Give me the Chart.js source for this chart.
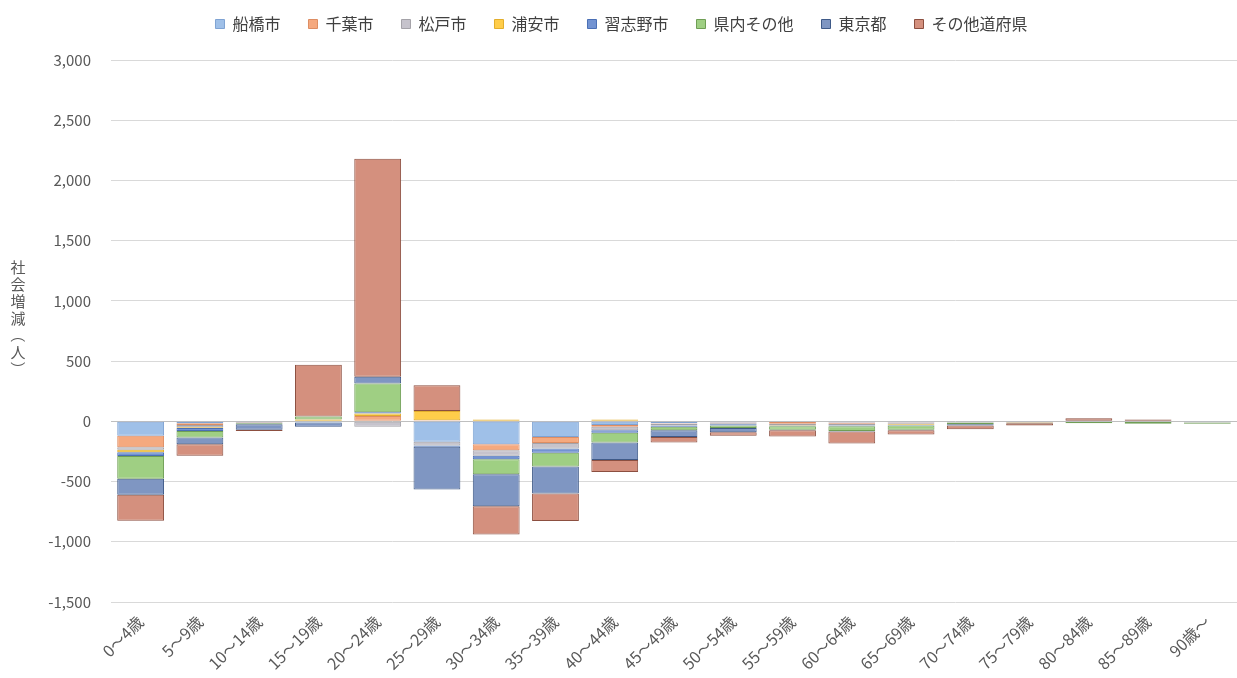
<!DOCTYPE html>
<html lang="ja">
<head>
<meta charset="utf-8">
<script src="https://cdn.jsdelivr.net/npm/chart.js@4.4.1/dist/chart.umd.min.js"></script>
<style>
  html, body { margin: 0; padding: 0; background: #fff; }
  #wrap { width: 1237px; height: 678px; position: relative; }
</style>
</head>
<body>
<div id="wrap"><canvas id="myChart"></canvas></div>
<script>
// 年齢区分
const ageGroups = ['0～4歳', '5～9歳', '10～14歳', '15～19歳', '20～24歳', '25～29歳', '30～34歳',
  '35～39歳', '40～44歳', '45～49歳', '50～54歳', '55～59歳', '60～64歳', '65～69歳', '70～74歳',
  '75～79歳', '80～84歳', '85～89歳', '90歳～'];

// 転入元・転出先ごとの社会増減（人）
const funabashi = [-120, -15, -5, -10, 0, -170, -190, -130, -30, -15, -10, -5, -10, -10, -5, -5, -5, 0, -5];
const chiba = [-95, -15, -5, 5, 45, 10, -50, -50, -15, -5, -5, -15, -10, -5, 0, -5, 0, 0, 0];
const matsudo = [-20, -20, 0, 0, -45, -30, -45, -45, -30, -15, -10, -10, -15, -10, -5, 0, 0, -5, -5];
const urayasu = [-22, -5, 0, 10, 20, 75, 15, 0, 15, 5, 0, -5, 0, -5, 0, 0, 0, 0, 0];
const narashino = [-30, -25, -5, 0, 10, -10, -30, -35, -20, -10, -10, -5, -5, -5, 0, 0, 0, 0, 0];
const kennai = [-190, -55, -10, 25, 240, 0, -125, -115, -80, -30, -20, -30, -40, -35, -15, -5, -10, -15, -10];
const tokyo = [-133, -55, -45, -35, 55, -355, -265, -225, -145, -55, -35, -5, -5, -5, -10, 0, 5, 0, 0];
const otherPref = [-215, -95, -10, 430, 1810, 215, -235, -228, -100, -45, -30, -50, -100, -35, -30, -20, 20, 15, 0];

// 軸
const yMin = -1500;
const yMax = 3000;
const yStep = 500;
const yTitleText = '社会増減（人）';

const FONT = '"Noto Sans CJK JP", "Noto Sans", sans-serif';
const TEXT = '#595959';

const series = [
  { label: '船橋市', data: funabashi, bg: '#9fc0e8', line: '#7fa3d3' },
  { label: '千葉市', data: chiba, bg: '#f5a97f', line: '#dd8d63' },
  { label: '松戸市', data: matsudo, bg: '#c6c3cc', line: '#a4a2a8' },
  { label: '浦安市', data: urayasu, bg: '#ffcd4a', line: '#e2ae2c' },
  { label: '習志野市', data: narashino, bg: '#7293d2', line: '#4a6fb5' },
  { label: '県内その他', data: kennai, bg: '#9fcf83', line: '#6f9e55' },
  { label: '東京都', data: tokyo, bg: '#7f96c2', line: '#3f5a88' },
  { label: 'その他道府県', data: otherPref, bg: '#d4907e', line: '#8c4f40' }
];

// 縦書きの軸タイトル
const verticalTitle = {
  id: 'verticalTitle',
  afterDraw(chart) {
    const ctx = chart.ctx;
    const chars = Array.from(yTitleText);
    const step = 17;
    const x = 18;
    let y = 318 - (chars.length * step) / 2 + step / 2;
    ctx.save();
    ctx.font = '15px ' + FONT;
    ctx.fillStyle = TEXT;
    ctx.textAlign = 'center';
    ctx.textBaseline = 'middle';
    chars.forEach(ch => {
      if (ch === '（' || ch === '）') {
        ctx.save();
        ctx.translate(x, y);
        ctx.rotate(Math.PI / 2);
        ctx.fillText(ch, 0, 0);
        ctx.restore();
      } else {
        ctx.fillText(ch, x, y);
      }
      y += step;
    });
    ctx.restore();
  }
};

// 凡例の位置と下の余白
const legendSpace = {
  id: 'legendSpace',
  beforeInit(chart) {
    const fit = chart.legend.fit;
    chart.legend.fit = function () {
      fit.bind(chart.legend)();
      this.height = 60;
    };
  },
  afterLayout(chart) {
    chart.legend.top -= 12;
    chart.legend.left -= 12;
    chart.legend.right -= 12;
  }
};

const ctx = document.getElementById('myChart');
new Chart(ctx, {
  type: 'bar',
  data: {
    labels: ageGroups,
    datasets: series.map(s => ({
      label: s.label,
      data: s.data,
      backgroundColor: s.bg,
      borderColor: s.line,
      borderWidth: 1,
      borderSkipped: false,
      barPercentage: 0.79,
      categoryPercentage: 1
    }))
  },
  options: {
    responsive: true,
    maintainAspectRatio: false,
    animation: false,
    layout: { padding: { left: 30, right: 0, top: 0, bottom: 0 } },
    plugins: {
      legend: {
        position: 'top',
        labels: {
          font: { family: FONT, size: 16 },
          color: '#404040',
          boxWidth: 9,
          boxHeight: 9,
          padding: 28
        }
      },
      tooltip: { enabled: false }
    },
    scales: {
      x: {
        stacked: true,
        grid: { display: false },
        border: { display: false },
        ticks: {
          font: { family: FONT, size: 16 },
          color: TEXT,
          minRotation: 45,
          maxRotation: 45,
          autoSkip: false,
          padding: 2
        },
        afterFit: s => { s.height = 76; }
      },
      y: {
        stacked: true,
        min: yMin,
        max: yMax,
        border: { display: false },
        grid: {
          drawTicks: false,
          color: c => (c.tick && c.tick.value === 0 ? '#bfbfbf' : '#d9d9d9')
        },
        ticks: {
          stepSize: yStep,
          padding: 20,
          font: { family: FONT, size: 15 },
          color: TEXT,
          callback: v => v.toLocaleString('en-US')
        },
        afterFit: s => { s.width = 81; }
      }
    }
  },
  plugins: [verticalTitle, legendSpace]
});
</script>
</body>
</html>
